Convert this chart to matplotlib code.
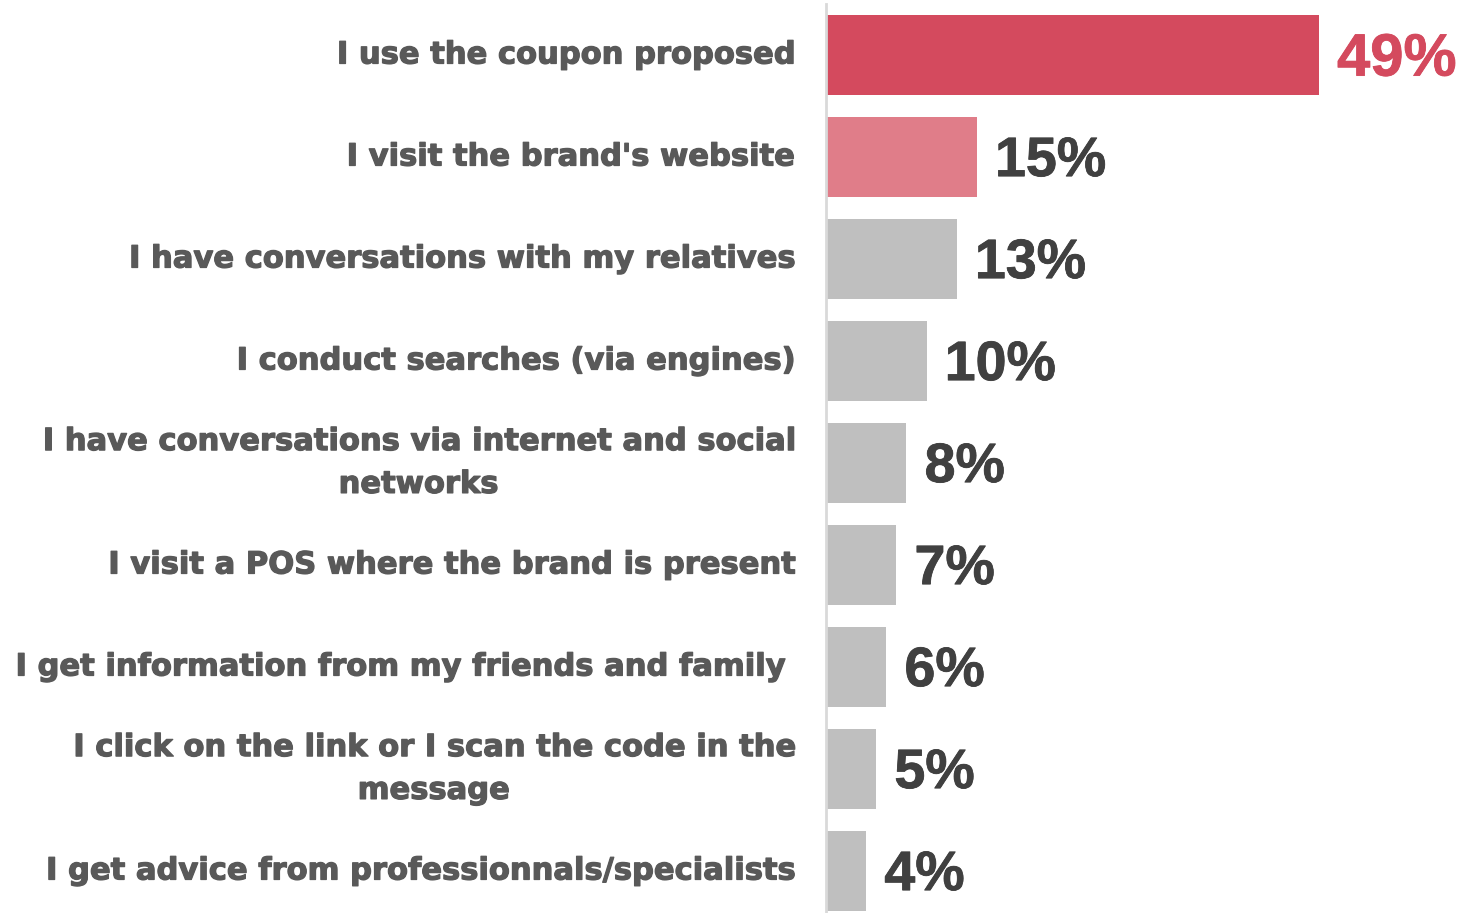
import matplotlib
matplotlib.use('Agg')
import matplotlib.pyplot as plt
import matplotlib.patheffects as pe

# Respostas (de cima para baixo) e percentuais
categorias = [
    "I use the coupon proposed",
    "I visit the brand's website",
    "I have conversations with my relatives",
    "I conduct searches (via engines)",
    "I have conversations via internet and social\nnetworks",
    "I visit a POS where the brand is present",
    "I get information from my friends and family ",
    "I click on the link or I scan the code in the\nmessage",
    "I get advice from professionnals/specialists",
]
valores = [49, 15, 13, 10, 8, 7, 6, 5, 4]

cor_barras = ['#D44A5E', '#E07D89'] + ['#BFBFBF'] * 7
cor_rotulos = ['#D44A5E'] + ['#404040'] * 8
tam_rotulos = [43] + [40] * 8

fig = plt.figure(figsize=(14.65, 9.13), dpi=100)
ax = fig.add_axes([826 / 1465, -9 / 913, 1 - 826 / 1465, 918 / 913])

pos = list(range(len(valores)))
ax.barh(pos, valores, height=0.78, color=cor_barras)
ax.set_ylim(len(valores) - 0.5, -0.5)
ax.set_xlim(0, (1465 - 826) / 10.06)

for p, v, c, t in zip(pos, valores, cor_rotulos, tam_rotulos):
    ax.text(v + 1.8, p + 0.05, f'{v}%', va='center', ha='left',
            fontsize=t, fontweight='bold', color=c, family='Liberation Sans',
            path_effects=[pe.withStroke(linewidth=0.6, foreground=c)])

for p, cat in zip(pos, categorias):
    ax.text(-3.2, p, cat, va='center', ha='right', multialignment='center',
            fontsize=22.0, fontweight='bold', color='#595959',
            family='DejaVu Sans', linespacing=1.6,
            path_effects=[pe.withStroke(linewidth=0.9, foreground='#595959')])

ax.set_xticks([])
ax.set_yticks([])
for s in ['top', 'right', 'bottom']:
    ax.spines[s].set_visible(False)
ax.spines['left'].set_color('#D9D9D9')
ax.spines['left'].set_linewidth(2)

fig.savefig('out.png', dpi=100)
